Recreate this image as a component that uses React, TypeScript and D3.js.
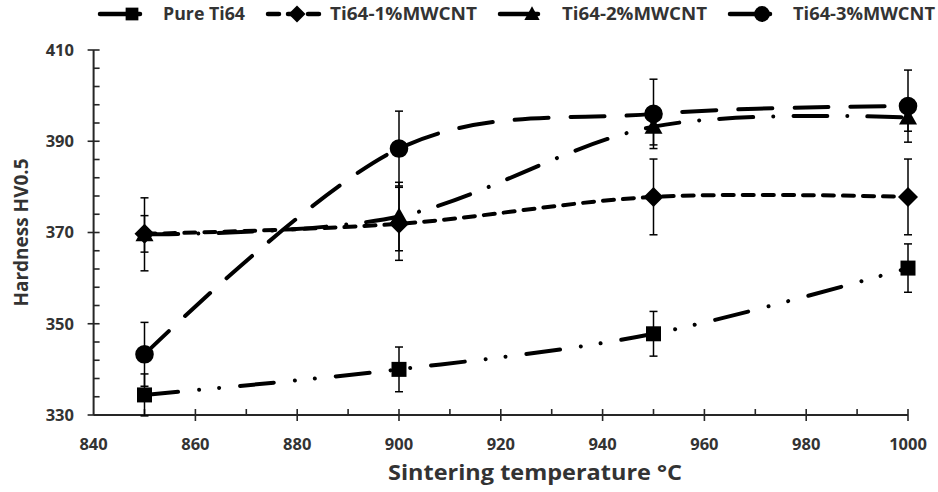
import React from 'react';
import * as d3 from 'd3';

// ---- data ----
const temperatures = [850, 900, 950, 1000];
const seriesNames = ['Pure Ti64', 'Ti64-1%MWCNT', 'Ti64-2%MWCNT', 'Ti64-3%MWCNT'];
const pureValues = [334.4, 340.0, 347.8, 362.2];
const pureErrors = [4.6, 4.9, 4.9, 5.3];
const cnt1Values = [369.7, 371.9, 377.8, 377.8];
const cnt1Errors = [4.0, 8.0, 8.3, 8.3];
const cnt2Values = [369.6, 373.5, 393.2, 395.2];
const cnt2Errors = [8.0, 7.5, 4.0, 3.0];
const cnt3Values = [343.3, 388.4, 396.0, 397.7];
const cnt3Errors = [7.0, 8.2, 7.6, 7.9];
const xTickValues = [840, 860, 880, 900, 920, 940, 960, 980, 1000];
const yTickValues = [330, 350, 370, 390, 410];
const xTitle = 'Sintering temperature °C';
const yTitle = 'Hardness HV0.5';

// ---- styles / layout ----
const W = 938;
const H = 492;
const FONT = "'Open Sans', sans-serif";
const TEXT = '#333333';
const AX = '#262626';
const markerKinds = ['square', 'diamond', 'triangle', 'circle'];
const dashPatterns = ['34 21 0.01 20 0.01 21', '11 9', '34 20 0.01 20', '34 22'];
const legendLayout = [
  { x0: 100, x1: 140, mx: 132, tx: 163, tw: 82 },
  { x0: 268, x1: 327, mx: 297, tx: 330, tw: 147 },
  { x0: 500, x1: 538, mx: 532, tx: 562, tw: 145 },
  { x0: 730, x1: 770, mx: 762, tx: 793, tw: 142 },
];

const valuesList = [pureValues, cnt1Values, cnt2Values, cnt3Values];
const errorsList = [pureErrors, cnt1Errors, cnt2Errors, cnt3Errors];

function markerPath(kind: string, s: number): string {
  if (kind === 'square') {
    const h = 7.5 * s;
    return `M${-h},${-h}H${h}V${h}H${-h}Z`;
  }
  if (kind === 'diamond') {
    const h = 10 * s;
    return `M0,${-h}L${h},0L0,${h}L${-h},0Z`;
  }
  if (kind === 'triangle') {
    const w = 9 * s;
    const t = 9 * s;
    const b = 7 * s;
    return `M0,${-t}L${w},${b}L${-w},${b}Z`;
  }
  const r = 9.3 * s;
  return `M${r},0A${r},${r} 0 1,1 ${-r},0A${r},${r} 0 1,1 ${r},0Z`;
}

export default function App() {
  const x = d3.scaleLinear().domain([840, 1000]).range([93.6, 908]);
  const y = d3.scaleLinear().domain([330, 410]).range([415, 50]);

  const line = d3
    .line<number>()
    .x((_, i) => x(temperatures[i]))
    .y((d) => y(d))
    .curve(d3.curveCardinal.tension(0));

  const xMinor = d3.range(850, 1000, 20);
  const yMinor = d3.range(330, 410, 4).filter((v) => (v - 330) % 20 !== 0);

  const x0 = x(840);
  const yBase = y(330);

  return (
    <svg
      width={W}
      height={H}
      viewBox={`0 0 ${W} ${H}`}
      style={{ position: 'absolute', left: 0, top: 0, background: '#ffffff' }}
    >
      <rect x={0} y={0} width={W} height={H} fill="#ffffff" />

      {/* axes */}
      <line x1={x0} x2={x0} y1={y(410)} y2={yBase} stroke={AX} strokeWidth={2} />
      <line x1={x0} x2={x(1000)} y1={yBase} y2={yBase} stroke={AX} strokeWidth={2} />
      {yTickValues.map((v) => (
        <line key={'ymaj' + v} x1={x0 - 6} x2={x0 + 6} y1={y(v)} y2={y(v)} stroke={AX} strokeWidth={1.6} />
      ))}
      {yMinor.map((v) => (
        <line key={'ymin' + v} x1={x0} x2={x0 + 6} y1={y(v)} y2={y(v)} stroke={AX} strokeWidth={1.6} />
      ))}
      {xTickValues.slice(1).map((v) => (
        <line key={'xmaj' + v} x1={x(v)} x2={x(v)} y1={yBase - 6} y2={yBase + 6} stroke={AX} strokeWidth={1.6} />
      ))}
      {xMinor.map((v) => (
        <line key={'xmin' + v} x1={x(v)} x2={x(v)} y1={yBase - 6} y2={yBase} stroke={AX} strokeWidth={1.6} />
      ))}

      {/* tick labels */}
      {yTickValues.map((v) => (
        <text
          key={'yl' + v}
          x={74}
          y={y(v)}
          dy="0.36em"
          textAnchor="end"
          fontFamily={FONT}
          fontWeight={700}
          fontSize={16.5}
          fill={TEXT}
        >
          {v}
        </text>
      ))}
      {xTickValues.map((v) => (
        <text
          key={'xl' + v}
          x={x(v)}
          y={444}
          dy="0.36em"
          textAnchor="middle"
          fontFamily={FONT}
          fontWeight={700}
          fontSize={16.5}
          fill={TEXT}
        >
          {v}
        </text>
      ))}

      {/* axis titles */}
      <text
        x={388}
        y={472}
        dy="0.36em"
        fontFamily={FONT}
        fontWeight={700}
        fontSize={21}
        textLength={294}
        lengthAdjust="spacingAndGlyphs"
        fill={TEXT}
      >
        {xTitle}
      </text>
      <text
        transform={`translate(21,${(y(410) + yBase) / 2}) rotate(-90)`}
        dy="0.36em"
        textAnchor="middle"
        fontFamily={FONT}
        fontWeight={700}
        fontSize={19}
        fill={TEXT}
      >
        {yTitle}
      </text>

      {/* series */}
      {valuesList.map((vals, si) => (
        <g key={'s' + si}>
          <path
            d={line(vals) || ''}
            fill="none"
            stroke="#000"
            strokeWidth={4}
            strokeLinecap="round"
            strokeDasharray={dashPatterns[si]}
          />
          {vals.map((v, i) => {
            const e = errorsList[si][i];
            const cx = x(temperatures[i]);
            return (
              <g key={'e' + i} stroke="#000" strokeWidth={1.5}>
                <line x1={cx} x2={cx} y1={y(v + e)} y2={y(v - e)} />
                <line x1={cx - 4} x2={cx + 4} y1={y(v + e)} y2={y(v + e)} />
                <line x1={cx - 4} x2={cx + 4} y1={y(v - e)} y2={y(v - e)} />
              </g>
            );
          })}
          {vals.map((v, i) => (
            <path
              key={'m' + i}
              d={markerPath(markerKinds[si], 1)}
              transform={`translate(${x(temperatures[i])},${y(v)})`}
              fill="#000"
            />
          ))}
        </g>
      ))}

      {/* legend */}
      {seriesNames.map((name, si) => {
        const L = legendLayout[si];
        return (
          <g key={'lg' + si}>
            <line
              x1={L.x0}
              x2={L.x1}
              y1={14}
              y2={14}
              stroke="#000"
              strokeWidth={4.5}
              strokeLinecap="round"
              strokeDasharray={si === 1 ? dashPatterns[si] : undefined}
            />
            <path d={markerPath(markerKinds[si], 0.85)} transform={`translate(${L.mx},14)`} fill="#000" />
            <text
              x={L.tx}
              y={14}
              dy="0.36em"
              fontFamily={FONT}
              fontWeight={700}
              fontSize={17}
              textLength={L.tw}
              lengthAdjust="spacingAndGlyphs"
              fill={TEXT}
            >
              {name}
            </text>
          </g>
        );
      })}
    </svg>
  );
}
